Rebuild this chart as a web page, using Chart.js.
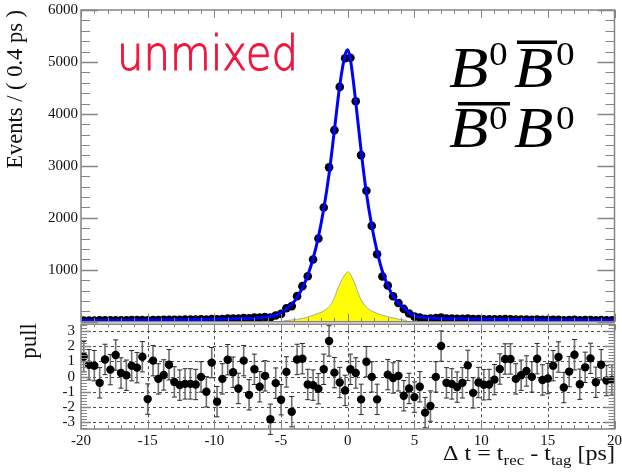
<!DOCTYPE html>
<html><head><meta charset="utf-8">
<script src="https://cdn.jsdelivr.net/npm/chart.js@4.4.1/dist/chart.umd.min.js"></script>
<style>
html,body{margin:0;padding:0;background:#fff;width:622px;height:473px;overflow:hidden;}
canvas{position:absolute;left:0;}
#top{top:0;width:622px;height:326px;}
#pull{top:320px;width:622px;height:153px;}
</style></head><body>
<canvas id="top" width="622" height="326"></canvas>
<canvas id="pull" width="622" height="153"></canvas>
<script>
// ---------- data ----------
const dtBins = [-19.8,-19.4,-19.0,-18.6,-18.2,-17.8,-17.4,-17.0,-16.6,-16.2,-15.8,-15.4,-15.0,-14.6,-14.2,-13.8,-13.4,-13.0,-12.6,-12.2,-11.8,-11.4,-11.0,-10.6,-10.2,-9.8,-9.4,-9.0,-8.6,-8.2,-7.8,-7.4,-7.0,-6.6,-6.2,-5.8,-5.4,-5.0,-4.6,-4.2,-3.8,-3.4,-3.0,-2.6,-2.2,-1.8,-1.4,-1.0,-0.6,-0.2,0.2,0.6,1.0,1.4,1.8,2.2,2.6,3.0,3.4,3.8,4.2,4.6,5.0,5.4,5.8,6.2,6.6,7.0,7.4,7.8,8.2,8.6,9.0,9.4,9.8,10.2,10.6,11.0,11.4,11.8,12.2,12.6,13.0,13.4,13.8,14.2,14.6,15.0,15.4,15.8,16.2,16.6,17.0,17.4,17.8,18.2,18.6,19.0,19.4,19.8];

const eventCounts = [22,24,23,25,26,25,28,27,28,30,31,33,29,34,33,35,38,36,37,39,40,41,44,43,50,45,52,59,60,60,70,67,78,80,90,82,118,150,258,300,492,684,875,1198,1602,2198,2971,3687,4520,5070,
5080,4244,3207,2520,1845,1298,870,698,490,361,246,158,98,82,58,60,68,78,62,60,58,58,62,50,52,48,47,46,48,50,48,40,41,41,38,42,35,35,37,38,29,32,37,28,32,34,27,31,26,26];

const pullValues = [1.31,0.78,0.72,-0.41,1.13,0.46,1.42,0.24,0.09,0.72,0.59,1.31,-1.48,1.05,-0.15,0.11,0.78,-0.35,-0.56,-0.48,-0.48,-0.52,-0.02,-1.00,0.92,-1.65,-0.15,1.11,0.29,-0.78,1.05,-1.20,0.48,-0.67,0.05,-2.81,-0.43,-1.52,0.31,-2.31,1.13,1.18,-0.52,-0.56,-0.80,0.48,2.35,0.26,-0.39,-0.91,
0.48,0.24,-1.50,0.98,-0.02,-1.50,null,0.13,-0.09,0.05,-1.26,-0.78,-1.35,-0.67,-2.37,-1.94,-0.02,2.01,-0.41,-0.48,-0.69,-0.41,0.74,-1.07,-0.39,-0.54,-0.52,-0.20,0.50,1.16,1.16,-0.15,0.09,0.37,-0.02,1.18,-0.22,-0.13,0.72,1.29,-0.72,0.33,1.44,-0.50,0.61,1.20,-0.37,0.78,-0.26,-0.22];

const fitX = [-20,-16,-12,-10,-8,-7,-6.2,-5.4,-5.0,-4.6,-4.2,-3.8,-3.4,-3.0,-2.6,-2.2,-1.8,-1.4,-1.0,-0.6,-0.2,0,0.2,0.6,1.0,1.4,1.8,2.2,2.6,3.0,3.4,3.8,4.2,4.6,5.0,5.4,6.0,7.0,8,10,12,16,20];
const fitY = [21,28,38,46,60,68,88,125,168,250,335,467,653,890,1217,1634,2175,2843,3690,4546,5136,5236,5046,4228,3292,2471,1845,1352,965,695,492,360,266,168,111,88,74,62,56,48,42,32,24];

const bkgX = [-4.8,-4.33,-3.33,-2.33,-1.58,-1.09,-0.71,-0.35,0,0.3,0.54,0.91,1.41,2.17,3.16,4.16,4.45];
const bkgY = [18,29,67,150,246,405,662,850,962,860,725,470,278,163,86,35,25];

const topYTicks = [0,1000,2000,3000,4000,5000,6000];
const pullYTicks = [-3,-2,-1,0,1,2,3];
const xTickLabels = [-20,-15,-10,-5,0,5,10,15,20];

// ---------- drawing helpers ----------
const SERIF = '"Liberation Serif", "DejaVu Serif", serif';
const FRAME = '#858585';
function line(ctx,x1,y1,x2,y2){ctx.beginPath();ctx.moveTo(x1,y1);ctx.lineTo(x2,y2);ctx.stroke();}
function txt(ctx,s,font,x,y,sx){ctx.save();ctx.font=font;ctx.translate(x,y);ctx.scale(sx||1,1);ctx.fillText(s,0,0);ctx.restore();}
function drawSeq(ctx,pieces,x0,base,targetW,color,strokeW){
  let w=0; pieces.forEach(p=>{ctx.font=p.f;p.w=ctx.measureText(p.t).width;w+=p.w;});
  const sx=targetW/w;
  ctx.save();ctx.fillStyle=color;ctx.strokeStyle=color;ctx.lineJoin='round';ctx.translate(x0,base);ctx.scale(sx,1);
  let x=0; pieces.forEach(p=>{ctx.font=p.f;ctx.fillText(p.t,x,p.dy||0);
    if(strokeW){ctx.lineWidth=strokeW;ctx.strokeText(p.t,x,p.dy||0);} x+=p.w;});
  ctx.restore();
}

const rootFrame = {
  id:'rootFrame',
  beforeDatasetsDraw(chart,args,o){
    const {ctx, chartArea:a, scales:{x,y}} = chart;
    if (o.grid){
      ctx.save();ctx.strokeStyle='#4a4a4a';ctx.lineWidth=1;ctx.setLineDash([3,3]);
      o.grid.y.forEach(v=>{const py=Math.round(y.getPixelForValue(v))+0.5;line(ctx,a.left,py,a.right,py);});
      o.grid.x.forEach(v=>{const px=Math.round(x.getPixelForValue(v))+0.5;line(ctx,px,a.top,px,a.bottom);});
      ctx.restore();
    }
    if (o.errors){
      const pts = chart.data.datasets[o.errors.dataset].data;
      ctx.save();
      pts.forEach(p=>{
        const px=x.getPixelForValue(p.x);
        const y1=y.getPixelForValue(p.y+o.errors.err), y2=y.getPixelForValue(p.y-o.errors.err);
        ctx.strokeStyle='#707070';ctx.lineWidth=1.6;line(ctx,px,y1,px,y2);
        ctx.strokeStyle='#2a2a2a';ctx.lineWidth=1;line(ctx,px-2.5,y1,px+2.5,y1);line(ctx,px-2.5,y2,px+2.5,y2);
      });
      ctx.restore();
    }
  },
  afterDatasetsDraw(chart,args,o){
    const {ctx, chartArea:a, scales:{x,y}} = chart;
    ctx.save();ctx.strokeStyle=FRAME;ctx.lineWidth=1;
    const xt=o.xt, yt=o.yt;
    const nx=Math.round((xt.max-xt.min)/xt.minor);
    for(let i=0;i<=nx;i++){
      const v=xt.min+i*xt.minor; const r=v/xt.major; const major=Math.abs(r-Math.round(r))<1e-6;
      const px=Math.round(x.getPixelForValue(v))+0.5;
      if(xt.top){const L=major?xt.topMaj:xt.topMin;line(ctx,px,a.top,px,a.top+L);}
      if(xt.bottom){const L=major?xt.botMaj:xt.botMin;line(ctx,px,a.bottom,px,a.bottom-L);}
    }
    const ny=Math.round((yt.max-yt.min)/yt.minor);
    for(let i=0;i<=ny;i++){
      const v=yt.min+i*yt.minor; const r=v/yt.major; const major=Math.abs(r-Math.round(r))<1e-6;
      const py=Math.round(y.getPixelForValue(v))+0.5; const L=major?yt.maj:yt.min_;
      ctx.lineWidth=major?1.5:1;
      line(ctx,a.left,py,a.left+L,py); line(ctx,a.right,py,a.right-L,py);
    }
    ctx.lineWidth=1.5;
    ctx.strokeRect(a.left,a.top,a.right-a.left,a.bottom-a.top);
    ctx.restore();
  },
  afterDraw(chart,args,o){ if(o.texts) o.texts(chart.ctx,chart); }
};

const tickFont = {family:SERIF, size:15};

// ---------- top chart ----------
new Chart(document.getElementById('top'), {
  type:'scatter',
  data:{datasets:[
    {label:'bkg', showLine:true, data:bkgX.map((v,i)=>({x:v,y:bkgY[i]})), fill:'origin',
     backgroundColor:'#ffff00', borderColor:'#a8a8a8', borderWidth:1, pointRadius:0, cubicInterpolationMode:'monotone', order:3},
    {label:'data', data:dtBins.map((v,i)=>({x:v,y:eventCounts[i]})), backgroundColor:'#000', borderColor:'#000',
     pointRadius:4.3, borderWidth:0, order:2},
    {label:'fit', showLine:true, data:fitX.map((v,i)=>({x:v,y:fitY[i]})), borderColor:'#0000ff', borderWidth:3,
     pointRadius:0, fill:false, cubicInterpolationMode:'monotone', order:1}
  ]},
  options:{
    responsive:false, animation:false, events:[],
    layout:{padding:{left:0,right:7.5,top:10,bottom:3}},
    plugins:{legend:{display:false}, tooltip:{enabled:false},
      rootFrame:{
        xt:{min:-20,max:20,minor:1,major:5,top:true,bottom:true,topMaj:8,topMin:4,botMaj:8,botMin:4},
        yt:{min:0,max:6000,minor:200,major:1000,maj:17,min_:9},
        texts:(ctx)=>{
          ctx.save();ctx.fillStyle='#111';ctx.font='22.5px '+SERIF;ctx.translate(22,10);ctx.rotate(-Math.PI/2);
          ctx.textAlign='right';ctx.textBaseline='alphabetic';ctx.fillText('Events / ( 0.4 ps )',0,0);ctx.restore();
          drawSeq(ctx,[{t:'unmixed',f:'200 48px "DejaVu Sans"'}],117,70,181,'#f0143c',1.0);
          ctx.save();ctx.fillStyle='#000';
          const bf='italic 56px '+SERIF, zf='34px '+SERIF;
          txt(ctx,'B',bf,449,87,1.15); txt(ctx,'0',zf,489,65,1.1);
          txt(ctx,'B',bf,514,87,1.15); txt(ctx,'0',zf,556,65,1.1);
          txt(ctx,'B',bf,449,147,1.15); txt(ctx,'0',zf,489,129,1.1);
          txt(ctx,'B',bf,514,147,1.15); txt(ctx,'0',zf,556,129,1.1);
          ctx.fillRect(517,40.5,40,3.5); ctx.fillRect(458,102,52,3.5);
          ctx.restore();
        }
      }
    },
    scales:{
      x:{type:'linear',min:-20,max:20,display:false},
      y:{type:'linear',min:0,max:6000,
         afterBuildTicks(s){s.ticks=topYTicks.map(v=>({value:v}));},
         ticks:{padding:3,font:tickFont,color:'#111',autoSkip:false,callback:v=>v===0?'':String(v)},
         grid:{display:false,drawTicks:false},border:{display:false},
         afterFit(s){s.width=81;s.paddingTop=0;s.paddingBottom=0;}}
    }
  },
  plugins:[rootFrame]
});

// ---------- pull chart ----------
const pullPts = dtBins.map((v,i)=>({x:v,y:pullValues[i]})).filter(p=>p.y!==null);
new Chart(document.getElementById('pull'), {
  type:'scatter',
  data:{datasets:[{label:'pull', data:pullPts, backgroundColor:'#000', borderColor:'#000', pointRadius:4.2, borderWidth:0}]},
  options:{
    responsive:false, animation:false, events:[],
    layout:{padding:{left:0,right:7.5,top:4,bottom:0}},
    plugins:{legend:{display:false}, tooltip:{enabled:false},
      rootFrame:{
        grid:{y:[-3,-2,-1,0,1,2,3], x:[-15,-10,-5,0,5,10,15]},
        errors:{dataset:0, err:1},
        xt:{min:-20,max:20,minor:1,major:5,top:true,bottom:true,topMaj:6,topMin:3,botMaj:8,botMin:4},
        yt:{min:-3.4,max:3.4,minor:0.2,major:1,maj:10,min_:6},
        texts:(ctx)=>{
          ctx.save();ctx.fillStyle='#111';ctx.font='23px '+SERIF;ctx.translate(36,3);ctx.rotate(-Math.PI/2);
          ctx.textAlign='right';ctx.fillText('pull',0,0);ctx.restore();
          const F='20px '+SERIF, S='14px '+SERIF;
          drawSeq(ctx,[{t:'\u0394 t = t',f:F},{t:'rec',f:S,dy:5},{t:' - t',f:F},{t:'tag',f:S,dy:5},{t:' [ps]',f:F}],443,140,172,'#111');
        }
      }
    },
    scales:{
      x:{type:'linear',min:-20,max:20,
         afterBuildTicks(s){s.ticks=xTickLabels.map(v=>({value:v}));},
         ticks:{padding:3,font:tickFont,color:'#111',autoSkip:false,maxRotation:0,callback:v=>String(v)},
         grid:{display:false,drawTicks:false},border:{display:false},
         afterFit(s){s.height=44;s.paddingLeft=0;s.paddingRight=0;}},
      y:{type:'linear',min:-3.45,max:3.45,
         afterBuildTicks(s){s.ticks=pullYTicks.map(v=>({value:v}));},
         ticks:{padding:6,font:tickFont,color:'#111',autoSkip:false,callback:v=>String(v)},
         grid:{display:false,drawTicks:false},border:{display:false},
         afterFit(s){s.width=81;s.paddingTop=0;s.paddingBottom=0;}}
    }
  },
  plugins:[rootFrame]
});
</script></body></html>
